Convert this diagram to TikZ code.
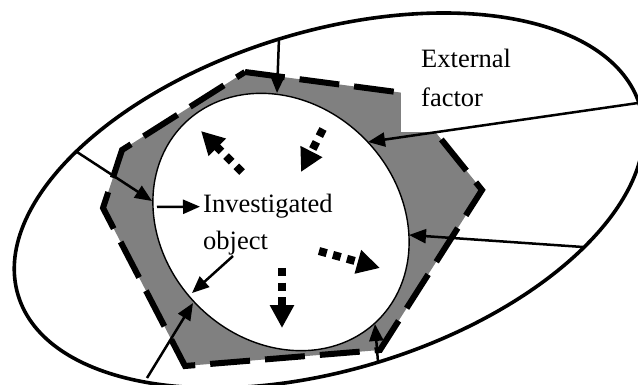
\documentclass[tikz,border=0pt]{standalone}
\usepackage{fontspec}
\setmainfont{Liberation Serif}
\usetikzlibrary{arrows.meta}
\begin{document}
\begin{tikzpicture}[x=1pt,y=-1pt,
  outerline/.style={line width=3.6pt},
  band/.style={fill=black!50},
  bandedge/.style={line width=6pt, dash pattern=on 40pt off 15pt},
  objline/.style={line width=1.4pt, fill=white},
  factor/.style={line width=2.5pt, -{Triangle[length=17pt,width=14pt]}},
  effect/.style={line width=8pt, dash pattern=on 8pt off 6.5pt, -{Triangle[length=23pt,width=23pt]}},
  txt/.style={font=\fontsize{26.5}{38}\selectfont, inner sep=0pt, anchor=base west}]
\useasboundingbox (0,0) rectangle (638,385);
\clip (0,0) rectangle (638,385);

% environment: outer ellipse
\draw[outerline, rotate around={17:(329,200.5)}] (329,200.5) ellipse [x radius=325pt, y radius=169pt];

% grey band between object and environment
\coordinate (p1) at (245,72);
\coordinate (p2) at (404,93);
\coordinate (p3) at (482,190);
\coordinate (p4) at (380,350);
\coordinate (p5) at (185,366);
\coordinate (p6) at (103,208);
\coordinate (p7) at (122,150);
\fill[band] (p1) -- (p2) -- (p3) -- (p4) -- (p5) -- (p6) -- (p7) -- cycle;

% investigated object
\draw[objline, rotate around={-45.8:(281,222)}] (281,222) ellipse [x radius=138pt, y radius=118pt];

% dashed boundary of the band
\draw[bandedge] (p1) -- (p2) -- (p3) -- (p4) -- (p5) -- (p6) -- (p7) -- cycle;

% label of the external factor on a white field
\fill[white] (401,40) rectangle (530,132);
\node[txt] (txtExt) at (421,68) {External};
\node[txt] (txtFac) at (421,107) {factor};

% label of the object
\node[txt] (txtInv) at (203,213) {Investigated};
\node[txt] (txtObj) at (203,250) {object};

% points on the outer ellipse
\coordinate (o1) at (279,38);
\coordinate (o2) at (77,152);
\coordinate (o5) at (147,378);
\coordinate (o6) at (378,362);
\coordinate (o7) at (583,247);
\coordinate (o8) at (638,103);
% points on the object boundary
\coordinate (i1) at (277,93);
\coordinate (i2) at (152,201);
\coordinate (i3) at (157,207);
\coordinate (i4) at (192,293);
\coordinate (i5) at (193,303);
\coordinate (i6) at (375,324);
\coordinate (i7) at (409,235);
\coordinate (i8) at (368,142);
\coordinate (a4) at (233,256);

% external factors acting on the object
\draw[factor] (o1) -- (i1);
\draw[factor] (o2) -- (i2);
\draw[factor] (i3) -- ([xshift=-3pt]txtInv.west);
\draw[factor] (a4) -- (i4);
\draw[factor] (o5) -- (i5);
\draw[factor] (o6) -- (i6);
\draw[factor] (o7) -- (i7);
\draw[factor] (o8) -- (i8);

% internal effects
\coordinate (e1s) at (242,172); \coordinate (e1t) at (201,131);
\coordinate (e2s) at (323,129); \coordinate (e2t) at (301,172);
\coordinate (e3s) at (282,268); \coordinate (e3t) at (282,328);
\coordinate (e4s) at (319,251); \coordinate (e4t) at (380,268);
\draw[effect] (e1s) -- (e1t);
\draw[effect] (e2s) -- (e2t);
\draw[effect] (e3s) -- (e3t);
\draw[effect] (e4s) -- (e4t);
\end{tikzpicture}
\end{document}
